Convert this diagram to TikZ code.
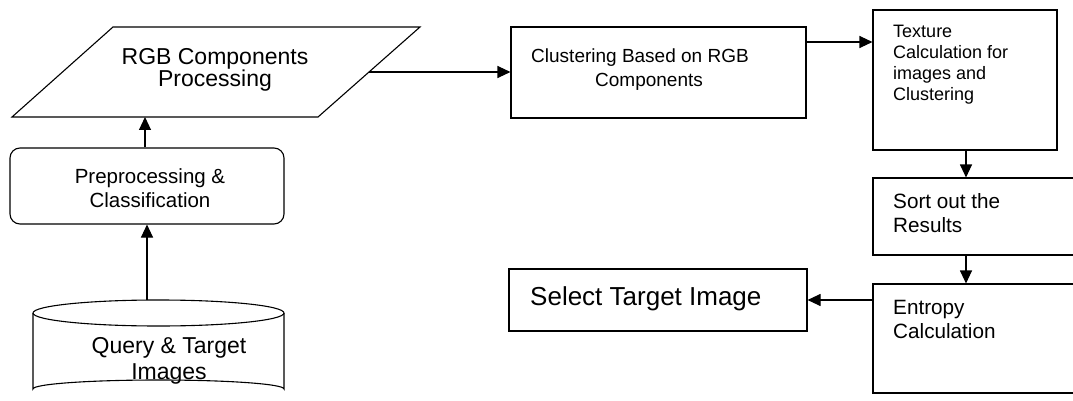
\documentclass[tikz,border=0pt]{standalone}
\usepackage{fontspec}
\setmainfont{Liberation Sans}
\usetikzlibrary{arrows.meta}
\tikzset{
  box/.style={draw, line width=1.1pt, rectangle, inner sep=0pt},
  lbl/.style={inner sep=0pt, align=left},
  clbl/.style={inner sep=0pt, align=center},
  arr/.style={line width=1.1pt, -{Triangle[length=13pt,width=12pt]}},
}
\begin{document}
\begin{tikzpicture}[x=1pt,y=-1pt]
\useasboundingbox (0,0) rectangle (1073,401);
\clip (0,0) rectangle (1073,401);
% RGB parallelogram
\draw[line width=1.1pt] (113,27) -- (420,27) -- (318,117) -- (12,117) -- cycle;
\coordinate (rgbB) at (145,117);
\coordinate (rgbR) at (369,72);
\node[clbl, anchor=base, font=\fontsize{23}{22.5}\selectfont] (rgb) at (215,87) {RGB Components\\Processing};
% Preprocessing
\node[box, rounded corners=10pt, minimum width=274, minimum height=76] (pre) at (147,186) {};
\node[clbl, anchor=base, font=\fontsize{20.5}{24}\selectfont] (pret) at (150,207) {Preprocessing \&\\Classification};
% Cylinder
\draw[line width=1.1pt] (33,313) -- (33,389) arc[start angle=180, end angle=360, x radius=125.5, y radius=9] -- (284,313);
\draw[line width=1.1pt] (158.5,313) ellipse[x radius=125.5, y radius=13];
\coordinate (cylT) at (147,300);
\node[clbl, anchor=base, font=\fontsize{23}{26}\selectfont] (qt) at (169,379) {Query \& Target\\Images};
% Clustering
\node[box, minimum width=295, minimum height=91] (clu) at (658.5,72.5) {};
\node[clbl, anchor=base, font=\fontsize{19}{24}\selectfont] (clut) at (649,87) {Clustering Based on RGB\hspace*{18pt}\\Components};
% Texture
\node[box, minimum width=184, minimum height=140] (tex) at (965,80) {};
\node[lbl, anchor=base west, font=\fontsize{18}{21.3}\selectfont] (text) at (893,101) {Texture\\Calculation for\\images and\\Clustering};
% Sort
\node[box, minimum width=214, minimum height=77] (sort) at (980,216.5) {};
\node[lbl, anchor=base west, font=\fontsize{20.7}{24}\selectfont] (sortt) at (893,232) {Sort out the\\Results};
% Entropy
\node[box, minimum width=214, minimum height=109] (ent) at (980,338.5) {};
\node[lbl, anchor=base west, font=\fontsize{20.7}{24}\selectfont] (entt) at (893,338) {Entropy\\Calculation};
% Select
\node[box, minimum width=298, minimum height=62] (sel) at (658,300) {};
\node[lbl, anchor=base west, font=\fontsize{26}{30}\selectfont] (selt) at (530,305) {Select Target Image};
% Arrows
\draw[arr] (cylT) -- (pre.south -| cylT);
\draw[arr] (pre.north -| rgbB) -- (rgbB);
\draw[arr] (rgbR) -- (clu.west |- rgbR);
\draw[arr] (clu.east |- 0,42) -- (tex.west |- 0,42);
\draw[arr] (tex.south -| 966,0) -- (sort.north -| 966,0);
\draw[arr] (sort.south -| 966,0) -- (ent.north -| 966,0);
\draw[arr] (ent.west |- 0,300) -- (sel.east |- 0,300);
\end{tikzpicture}
\end{document}
